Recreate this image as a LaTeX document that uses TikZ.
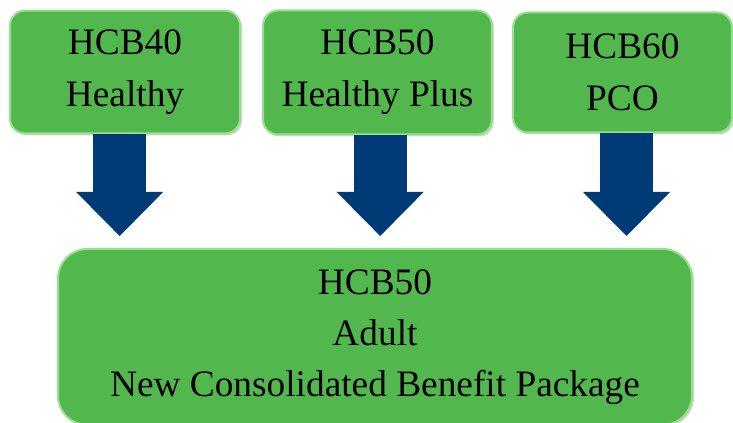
\documentclass[tikz,border=0pt]{standalone}
\usepackage{fontspec}
\setmainfont{Liberation Serif}
\usetikzlibrary{arrows.meta,shadows}
\definecolor{boxgreen}{RGB}{82,183,76}
\definecolor{edgegreen}{RGB}{150,225,140}
\definecolor{arrowblue}{RGB}{0,59,120}
\tikzset{every picture/.style={line width=0.75pt}}
\tikzset{
  planbox/.style={rounded corners=11pt, fill=boxgreen, draw=edgegreen, line width=1.5pt,
    drop shadow={shadow xshift=1.5pt, shadow yshift=-1.5pt, opacity=0.35},
    align=center, inner sep=0pt, font=\fontsize{28}{39}\selectfont},
  blockarrow/.style={draw=arrowblue, line width=39.75pt,
    -{Triangle[width=65.25pt, length=33pt, line width=0pt, fill=arrowblue]}}
}

\begin{document}
\begin{tikzpicture}[x=0.75pt,y=0.75pt,yscale=-1,xscale=1]
\useasboundingbox (0,0) rectangle (733,423);

%Shape: Rounded Rect [id:plan40]
\node [planbox, minimum width=172.5pt, minimum height=92pt] (hcb40) at (125,72) {HCB40\\Healthy};
%Shape: Rounded Rect [id:plan50]
\node [planbox, minimum width=171.5pt, minimum height=93pt] (hcb50) at (377.5,72.5) {HCB50\\Healthy Plus};
%Shape: Rounded Rect [id:plan60]
\node [planbox, minimum width=164pt, minimum height=90pt] (hcb60) at (622.5,72.5) {HCB60\\PCO};
%Shape: Rounded Rect [id:adult]
\node [planbox, rounded corners=22pt, minimum width=475.5pt, minimum height=132pt, font=\fontsize{28}{38.25}\selectfont] (adult) at (375,337) {HCB50\\Adult\\New Consolidated Benefit Package};

%Block Arrows
\draw [blockarrow, shorten >=9pt] ([xshift=-4pt]hcb40.south) -- ([xshift=-4pt]hcb40.south |- adult.north) ;
\draw [blockarrow, shorten >=9pt] ([xshift=2pt]hcb50.south) -- ([xshift=2pt]hcb50.south |- adult.north) ;
\draw [blockarrow, shorten >=9pt] ([xshift=3pt]hcb60.south) -- ([xshift=3pt]hcb60.south |- adult.north) ;

\end{tikzpicture}
\end{document}
